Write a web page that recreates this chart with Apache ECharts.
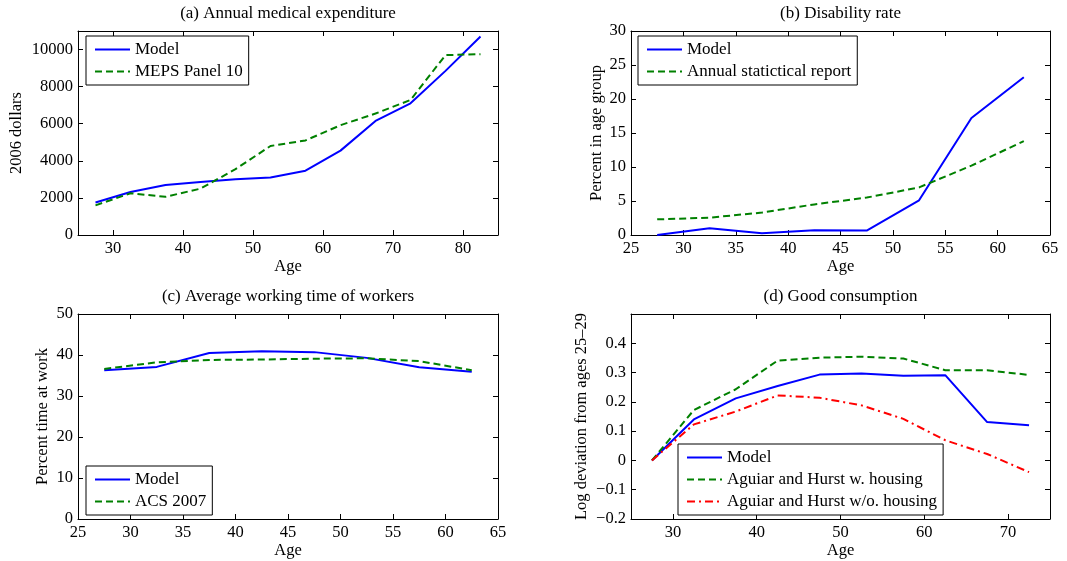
<!DOCTYPE html>
<html>
<head>
<meta charset="utf-8">
<title>Model fit: life-cycle profiles</title>
<script src="https://cdn.jsdelivr.net/npm/echarts@6/dist/echarts.min.js"></script>
<style>
html, body { margin: 0; padding: 0; background: #fff; }
#chart { width: 1067px; height: 561px; }
</style>
</head>
<body>
<div id="chart"></div>
<script>
// (a) annual medical expenditure, 2006 dollars
const agesA = [27.5, 32.5, 37.5, 42.5, 47.5, 52.5, 57.5, 62.5, 67.5, 72.5, 77.5, 82.5]
const modelA = [1750, 2320, 2700, 2860, 3010, 3100, 3470, 4550, 6150, 7100, 8850, 10700]
const mepsA = [1600, 2250, 2060, 2500, 3550, 4800, 5100, 5920, 6550, 7280, 9700, 9750]

// (b) disability rate, percent in age group
const agesB = [27.5, 32.5, 37.5, 42.5, 47.5, 52.5, 57.5, 62.5]
const modelB = [0, 1.0, 0.25, 0.7, 0.65, 5.1, 17.2, 23.2]
const reportB = [2.3, 2.55, 3.3, 4.5, 5.5, 7.0, 10.2, 13.8]

// (c) average working time of workers, percent
const agesC = [27.5, 32.5, 37.5, 42.5, 47.5, 52.5, 57.5, 62.5]
const modelC = [36.3, 37.1, 40.5, 40.9, 40.7, 39.3, 37.0, 35.9]
const acsC = [36.6, 38.2, 38.8, 38.9, 39.1, 39.2, 38.5, 36.3]

// (d) good consumption, log deviation from ages 25-29
const agesD = [27.5, 32.5, 37.5, 42.5, 47.5, 52.5, 57.5, 62.5, 67.5, 72.5]
const modelD = [0, 0.14, 0.212, 0.254, 0.293, 0.297, 0.289, 0.291, 0.131, 0.12]
const withHousingD = [0, 0.172, 0.243, 0.341, 0.351, 0.354, 0.348, 0.308, 0.308, 0.292]
const withoutHousingD = [0, 0.123, 0.167, 0.222, 0.214, 0.188, 0.142, 0.069, 0.022, -0.04]

// tick labels
const ticksAx = [30, 40, 50, 60, 70, 80]
const ticksAy = [0, 2000, 4000, 6000, 8000, 10000]
const ticksBx = [25, 30, 35, 40, 45, 50, 55, 60, 65]
const ticksBy = [0, 5, 10, 15, 20, 25, 30]
const ticksCx = [25, 30, 35, 40, 45, 50, 55, 60, 65]
const ticksCy = [0, 10, 20, 30, 40, 50]
const ticksDx = [30, 40, 50, 60, 70]
const ticksDy = [-0.2, -0.1, 0, 0.1, 0.2, 0.3, 0.4]

const FONT = 'Liberation Serif'
const BLUE = '#0000ff'
const GREEN = '#008000'
const RED = '#ff0000'

const grids = [
  { left: 78, top: 31, width: 420, height: 204 },
  { left: 631, top: 31, width: 419, height: 204 },
  { left: 78, top: 314, width: 420, height: 205 },
  { left: 631, top: 314, width: 419, height: 205 }
]

const zip = (xs, ys) => xs.map((x, i) => [x, ys[i]])
// plain numbers, no thousands separator, real minus sign
const plain = v => (v < 0 ? '\u2212' + Math.abs(v) : String(v))

// matlab style box: labelled axis + mirrored axis with inward ticks only
function xPair(gridIndex, min, max, ticks) {
  const base = {
    type: 'value',
    gridIndex,
    min,
    max,
    axisLine: { onZero: false, lineStyle: { color: '#000', width: 1 } },
    axisTick: { inside: true, length: 5, customValues: ticks, lineStyle: { color: '#000' } },
    splitLine: { show: false }
  }
  return [
    {
      ...base,
      position: 'bottom',
      axisLabel: { customValues: ticks, margin: 5, color: '#000', fontFamily: FONT, fontSize: 16.5, formatter: plain },
      name: 'Age',
      nameLocation: 'middle',
      nameGap: 23,
      nameTextStyle: { color: '#000', fontFamily: FONT, fontSize: 16.5 }
    },
    { ...base, position: 'top', axisLabel: { show: false } }
  ]
}

function yPair(gridIndex, min, max, ticks, name, gap) {
  const base = {
    type: 'value',
    gridIndex,
    min,
    max,
    axisLine: { onZero: false, lineStyle: { color: '#000', width: 1 } },
    axisTick: { inside: true, length: 5, customValues: ticks, lineStyle: { color: '#000' } },
    splitLine: { show: false }
  }
  return [
    {
      ...base,
      position: 'left',
      axisLabel: { customValues: ticks, margin: 5, color: '#000', fontFamily: FONT, fontSize: 16.5, formatter: plain },
      name,
      nameLocation: 'middle',
      nameGap: gap,
      nameTextStyle: { color: '#000', fontFamily: FONT, fontSize: 16.5 }
    },
    { ...base, position: 'right', axisLabel: { show: false } }
  ]
}

function line(name, axis, xs, ys, color, dash) {
  return {
    type: 'line',
    name,
    xAxisIndex: axis * 2,
    yAxisIndex: axis * 2,
    data: zip(xs, ys),
    symbol: 'none',
    lineStyle: { color, width: 2, type: dash || 'solid' },
    itemStyle: { color },
    emphasis: { disabled: true }
  }
}

function legend(left, top, names) {
  return {
    orient: 'vertical',
    left,
    top,
    padding: [5, 6, 5, 8],
    itemGap: 5,
    itemWidth: 35,
    itemHeight: 14,
    borderColor: '#000',
    borderWidth: 1,
    borderRadius: 0,
    backgroundColor: '#fff',
    selectedMode: false,
    itemStyle: { opacity: 0 }, // hide the marker, keep only the line sample
    textStyle: { color: '#000', fontFamily: FONT, fontSize: 17 },
    data: names
  }
}

function title(text, g) {
  return {
    text,
    left: g.left + g.width / 2,
    top: g.top - 26,
    textAlign: 'center',
    padding: 0,
    textStyle: { color: '#000', fontFamily: FONT, fontSize: 17, fontWeight: 'normal' }
  }
}

const chart = echarts.init(document.getElementById('chart'))

chart.setOption({
  animation: false,
  backgroundColor: '#fff',
  title: [
    title('(a) Annual medical expenditure', grids[0]),
    title('(b) Disability rate', grids[1]),
    title('(c) Average working time of workers', grids[2]),
    title('(d) Good consumption', grids[3])
  ],
  grid: grids,
  xAxis: [
    ...xPair(0, 25, 85, ticksAx),
    ...xPair(1, 25, 65, ticksBx),
    ...xPair(2, 25, 65, ticksCx),
    ...xPair(3, 25, 75, ticksDx)
  ],
  yAxis: [
    ...yPair(0, 0, 11000, ticksAy, '2006 dollars', 53),
    ...yPair(1, 0, 30, ticksBy, 'Percent in age group', 26),
    ...yPair(2, 0, 50, ticksCy, 'Percent time at work', 27),
    ...yPair(3, -0.2, 0.5, ticksDy, 'Log deviation from ages 25\u201329', 41)
  ],
  legend: [
    legend(86, 36, ['Model', 'MEPS Panel 10']),
    legend(638, 36, ['Model', 'Annual statictical report']),
    legend(86, 466, ['Model', 'ACS 2007']),
    legend(678, 444, ['Model', 'Aguiar and Hurst w. housing', 'Aguiar and Hurst w/o. housing'])
  ],
  series: [
    line('Model', 0, agesA, modelA, BLUE),
    line('MEPS Panel 10', 0, agesA, mepsA, GREEN, [7, 4]),
    line('Model', 1, agesB, modelB, BLUE),
    line('Annual statictical report', 1, agesB, reportB, GREEN, [7, 4]),
    line('Model', 2, agesC, modelC, BLUE),
    line('ACS 2007', 2, agesC, acsC, GREEN, [7, 4]),
    line('Model', 3, agesD, modelD, BLUE),
    line('Aguiar and Hurst w. housing', 3, agesD, withHousingD, GREEN, [7, 4]),
    line('Aguiar and Hurst w/o. housing', 3, agesD, withoutHousingD, RED, [8, 4, 2, 4])
  ]
})

window.addEventListener('resize', () => chart.resize())
</script>
</body>
</html>
